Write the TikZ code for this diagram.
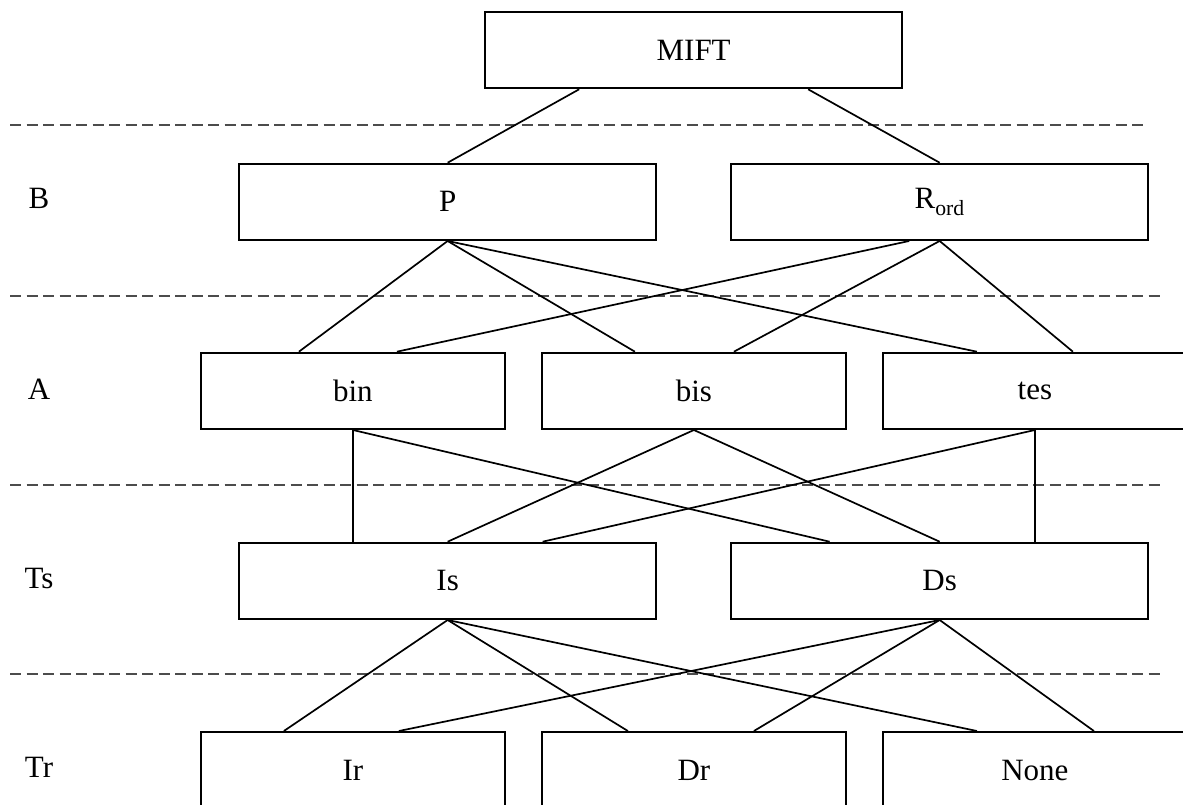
\documentclass[tikz,border=0pt]{standalone}
\usepackage{fontspec}
\setmainfont{Liberation Serif}
\begin{document}
\begin{tikzpicture}[x=1pt,y=-1pt,
  txt/.style={font=\fontsize{31}{36}\selectfont},
  box/.style={draw, line width=2.3pt, rectangle, anchor=north west, inner sep=0pt, minimum height=76pt, txt},
  wide/.style={box, minimum width=417pt},
  narrow/.style={box, minimum width=303.5pt},
  lab/.style={txt, inner sep=0pt},
  conn/.style={line width=1.7pt},
  sep/.style={line width=1.3pt, black!70, dash pattern=on 11pt off 5.5pt}]
\clip (0,0) rectangle (1183,805);
\fill[white] (0,0) rectangle (1183,805);
% boxes
\node[wide] (MIFT) at (484,11) {MIFT};
\node[wide] (P) at (238,162.7) {P};
\node[wide] (R) at (730,162.7) {R\textsubscript{ord}};
\node[narrow] (bin) at (200,351.7) {bin};
\node[narrow] (bis) at (541,351.7) {bis};
\node[narrow] (tes) at (882,351.7) {tes};
\node[wide] (Is) at (238,541.7) {Is};
\node[wide] (Ds) at (730,541.7) {Ds};
\node[narrow] (Ir) at (200,731) {Ir};
\node[narrow] (Dr) at (541,731) {Dr};
\node[narrow] (None) at (882,731) {None};
% row labels
\node[lab] (lB) at (39,198) {B};
\node[lab] (lA) at (39,389) {A};
\node[lab] (lTs) at (39,578) {Ts};
\node[lab] (lTr) at (39,767) {Tr};
% separators
\coordinate (s1a) at (10,125); \coordinate (s1b) at (1148,125);
\coordinate (s2a) at (10,296); \coordinate (s2b) at (1165,296);
\coordinate (s3a) at (10,485); \coordinate (s3b) at (1165,485);
\coordinate (s4a) at (10,674); \coordinate (s4b) at (1165,674);
\draw[sep] (s1a) -- (s1b);
\draw[sep] (s2a) -- (s2b);
\draw[sep] (s3a) -- (s3b);
\draw[sep] (s4a) -- (s4b);
% connectors
\draw[conn] ([xshift=-114.5pt]MIFT.south) -- (P.north);
\draw[conn] ([xshift=114.5pt]MIFT.south) -- (R.north);
\draw[conn] (P.south) -- ([xshift=-54pt]bin.north);
\draw[conn] (P.south) -- ([xshift=-59pt]bis.north);
\draw[conn] (P.south) -- ([xshift=-58pt]tes.north);
\draw[conn] ([xshift=-30.5pt]R.south) -- ([xshift=44pt]bin.north);
\draw[conn] (R.south) -- ([xshift=40pt]bis.north);
\draw[conn] (R.south) -- ([xshift=38pt]tes.north);
\draw[conn] (bin.south) -- (bin.south |- Is.north);
\draw[conn] (bin.south) -- ([xshift=-110pt]Ds.north);
\draw[conn] (bis.south) -- (Is.north);
\draw[conn] (bis.south) -- (Ds.north);
\draw[conn] (tes.south) -- ([xshift=95pt]Is.north);
\draw[conn] (tes.south) -- (tes.south |- Ds.north);
\draw[conn] (Is.south) -- ([xshift=-69pt]Ir.north);
\draw[conn] (Is.south) -- ([xshift=-66pt]Dr.north);
\draw[conn] (Is.south) -- ([xshift=-58pt]None.north);
\draw[conn] (Ds.south) -- ([xshift=46pt]Ir.north);
\draw[conn] (Ds.south) -- ([xshift=60pt]Dr.north);
\draw[conn] (Ds.south) -- ([xshift=59pt]None.north);
\end{tikzpicture}
\end{document}
